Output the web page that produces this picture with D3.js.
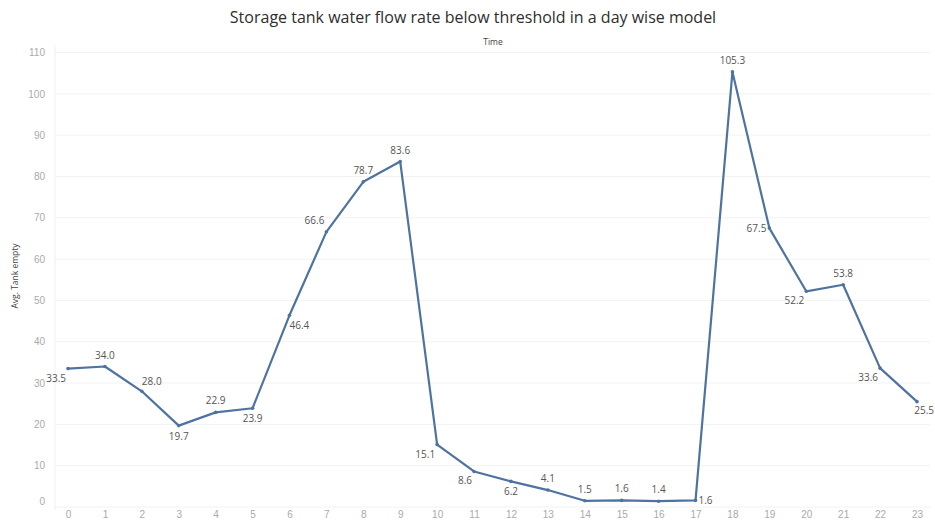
<!DOCTYPE html>
<html>
<head>
<meta charset="utf-8">
<script src="https://cdn.jsdelivr.net/npm/d3@7"></script>
<style>
  html, body { margin: 0; padding: 0; background: #fff; }
  svg { display: block; font-family: "Open Sans", "Noto Sans", sans-serif; }
</style>
</head>
<body>
<svg id="chart" width="935" height="523"></svg>
<script>
// Hour of day and average "tank empty" value per hour
const hours = [0,1,2,3,4,5,6,7,8,9,10,11,12,13,14,15,16,17,18,19,20,21,22,23];
const avgTankEmpty = [33.5,34.0,28.0,19.7,22.9,23.9,46.4,66.6,78.7,83.6,15.1,8.6,6.2,4.1,1.5,1.6,1.4,1.6,105.3,67.5,52.2,53.8,33.6,25.5];
const yTicks = [0,10,20,30,40,50,60,70,80,90,100,110];
// Where each value label sits relative to its point
const labelSide = ["bl","a","ar","b","a","b","br","al","a","a","bl","bl","b","a","a","a","a","r","a","l","bl","a","bl","be"];

const title = "Storage tank water flow rate below threshold in a day wise model";
const xTitle = "Time";
const yTitle = "Avg. Tank empty";

const svg = d3.select("#chart");
const W = 935, H = 523;
const margin = { left: 55, right: 5, top: 50, bottom: 16 };

const x = d3.scalePoint().domain(hours).range([68, 917]);
const y = d3.scaleLinear().domain([0, 110]).range([507, 52.5]);

// Title and axis titles
svg.append("text")
  .attr("x", 473).attr("y", 23)
  .attr("text-anchor", "middle")
  .attr("font-size", 16)
  .attr("fill", "#2e2e2e")
  .text(title);

svg.append("text")
  .attr("x", 493).attr("y", 45)
  .attr("text-anchor", "middle")
  .attr("font-size", 8.5)
  .attr("fill", "#444")
  .text(xTitle);

svg.append("text")
  .attr("transform", "translate(18,276) rotate(-90)")
  .attr("text-anchor", "middle")
  .attr("font-size", 8.5)
  .attr("fill", "#444")
  .text(yTitle);

// Horizontal gridlines
svg.append("g")
  .selectAll("line")
  .data(yTicks)
  .join("line")
  .attr("x1", margin.left).attr("x2", W - margin.right)
  .attr("y1", d => y(d)).attr("y2", d => y(d))
  .attr("stroke", "#f2f2f2")
  .attr("stroke-width", 1);

// Vertical axis rule
svg.append("line")
  .attr("x1", margin.left).attr("x2", margin.left)
  .attr("y1", 45).attr("y2", 510)
  .attr("stroke", "#f0f0f0");

// Y axis tick labels
const yAxis = d3.axisLeft(y).tickValues(yTicks).tickSize(0).tickPadding(0);
const gy = svg.append("g").attr("transform", "translate(45,0)").call(yAxis);
gy.select(".domain").remove();
gy.selectAll("text")
  .attr("font-size", 10)
  .attr("fill", "#aaa")
  .attr("font-family", "inherit")
  .attr("dy", d => d === 0 ? "-0.3em" : "0.32em");

// X axis tick labels
const xAxis = d3.axisBottom(x).tickSize(0).tickPadding(0);
const gx = svg.append("g").attr("transform", "translate(0,511)").call(xAxis);
gx.select(".domain").remove();
gx.selectAll("text")
  .attr("font-size", 10)
  .attr("fill", "#aaa")
  .attr("font-family", "inherit");

// Series line
const pts = hours.map((h, i) => ({ h, v: avgTankEmpty[i], side: labelSide[i] }));
const line = d3.line().x(d => x(d.h)).y(d => y(d.v));

svg.append("path")
  .datum(pts)
  .attr("d", line)
  .attr("fill", "none")
  .attr("stroke", "#4e73a0")
  .attr("stroke-width", 2.2)
  .attr("stroke-linejoin", "round");

svg.append("g")
  .selectAll("circle")
  .data(pts)
  .join("circle")
  .attr("cx", d => x(d.h)).attr("cy", d => y(d.v))
  .attr("r", 1.8)
  .attr("fill", "#4e73a0");

// Value labels
const off = {
  a:  [0, -8, "middle"],
  b:  [0, 14, "middle"],
  l:  [-3, 4, "end"],
  r:  [3, 4, "start"],
  al: [-2, -8, "end"],
  ar: [0, -6, "start"],
  bl: [-2, 13, "end"],
  br: [0, 14, "start"],
  be: [17, 12, "end"]
};
svg.append("g")
  .selectAll("text")
  .data(pts)
  .join("text")
  .attr("x", d => x(d.h) + off[d.side][0])
  .attr("y", d => y(d.v) + off[d.side][1])
  .attr("text-anchor", d => off[d.side][2])
  .attr("font-size", 10)
  .attr("fill", "#555")
  .text(d => d.v.toFixed(1));
</script>
</body>
</html>
